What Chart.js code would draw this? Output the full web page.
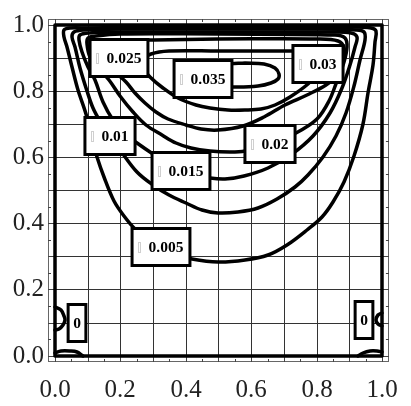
<!DOCTYPE html>
<html><head><meta charset="utf-8">
<script src="https://cdn.jsdelivr.net/npm/chart.js@4.4.0/dist/chart.umd.min.js"></script>
<style>html,body{margin:0;padding:0;background:#fff;}</style>
</head><body>
<canvas id="c" width="411" height="406"></canvas>
<script>
// ---- data (data units) ----
const gridValues = [0,0.1,0.2,0.3,0.4,0.5,0.6,0.7,0.8,0.9,1.0];
const tickLabelValues = [0,0.2,0.4,0.6,0.8,1.0];

const wall = [[0,0],[1,0],[1,1],[0,1],[0,0]];
const psi0LeftEddy = [[0,0.147],[0.018,0.137],[0.028,0.12],[0.03,0.108],[0.026,0.092],[0.013,0.081],[0,0.078]];
const psi0RightEddy = [[1,0.13],[0.988,0.122],[0.982,0.108],[0.986,0.095],[1,0.088]];
const psi0BottomLeft = [[0,0.009],[0.02,0.014],[0.045,0.015],[0.068,0.01],[0.085,0]];
const psi0BottomRight = [[0.925,0],[0.942,0.009],[0.962,0.014],[0.985,0.013],[1,0.01]];

const psi005 = [[0.5,0.994],[0.3,0.994],[0.1,0.993],[0.045,0.991],[0.027,0.985],[0.029,0.965],[0.038,0.935],[0.052,0.875],[0.072,0.805],[0.094,0.73],[0.111,0.665],[0.129,0.6],[0.151,0.54],[0.18,0.468],[0.21,0.422],[0.245,0.383],[0.3,0.337],[0.36,0.306],[0.42,0.291],[0.5,0.284],[0.58,0.288],[0.65,0.305],[0.71,0.334],[0.77,0.38],[0.815,0.42],[0.85,0.465],[0.882,0.525],[0.915,0.605],[0.94,0.7],[0.958,0.795],[0.971,0.88],[0.979,0.95],[0.98,0.982],[0.965,0.992],[0.9,0.994],[0.7,0.994],[0.5,0.994]];
const psi010 = [[0.5,0.988],[0.2,0.988],[0.085,0.986],[0.058,0.98],[0.053,0.965],[0.062,0.935],[0.078,0.87],[0.098,0.8],[0.118,0.75],[0.14,0.705],[0.167,0.665],[0.2,0.622],[0.25,0.556],[0.3,0.515],[0.35,0.485],[0.4,0.461],[0.45,0.442],[0.5,0.433],[0.56,0.435],[0.62,0.448],[0.68,0.474],[0.735,0.51],[0.775,0.547],[0.82,0.6],[0.86,0.665],[0.89,0.735],[0.913,0.815],[0.933,0.895],[0.947,0.955],[0.946,0.98],[0.92,0.987],[0.8,0.988],[0.5,0.988]];
const psi015 = [[0.5,0.981],[0.2,0.981],[0.105,0.978],[0.078,0.971],[0.073,0.955],[0.082,0.92],[0.1,0.875],[0.123,0.835],[0.148,0.768],[0.178,0.712],[0.213,0.672],[0.252,0.643],[0.3,0.611],[0.34,0.585],[0.385,0.562],[0.43,0.546],[0.473,0.538],[0.52,0.536],[0.577,0.545],[0.65,0.568],[0.725,0.61],[0.79,0.665],[0.84,0.733],[0.878,0.81],[0.903,0.88],[0.918,0.935],[0.922,0.963],[0.905,0.977],[0.85,0.981],[0.5,0.981]];
const psi020 = [[0.5,0.973],[0.2,0.973],[0.125,0.969],[0.102,0.96],[0.097,0.943],[0.108,0.905],[0.133,0.87],[0.166,0.835],[0.2,0.786],[0.238,0.737],[0.28,0.697],[0.327,0.667],[0.37,0.644],[0.416,0.627],[0.475,0.618],[0.535,0.616],[0.58,0.62],[0.656,0.64],[0.737,0.675],[0.8,0.717],[0.837,0.77],[0.862,0.83],[0.882,0.89],[0.892,0.935],[0.885,0.962],[0.855,0.972],[0.5,0.973]];
const psi025 = [[0.5,0.957],[0.3,0.956],[0.205,0.952],[0.168,0.941],[0.153,0.92],[0.16,0.89],[0.185,0.86],[0.218,0.828],[0.245,0.795],[0.277,0.764],[0.31,0.738],[0.347,0.716],[0.4,0.697],[0.446,0.687],[0.5,0.682],[0.574,0.695],[0.64,0.722],[0.703,0.758],[0.77,0.79],[0.828,0.818],[0.862,0.85],[0.88,0.893],[0.882,0.93],[0.865,0.951],[0.8,0.957],[0.5,0.957]];
const psi030 = [[0.5,0.923],[0.35,0.921],[0.293,0.913],[0.268,0.895],[0.27,0.87],[0.292,0.843],[0.33,0.81],[0.376,0.781],[0.43,0.759],[0.475,0.748],[0.53,0.744],[0.58,0.742],[0.63,0.746],[0.673,0.758],[0.72,0.784],[0.772,0.823],[0.808,0.858],[0.826,0.888],[0.82,0.91],[0.795,0.92],[0.73,0.923],[0.5,0.923]];
const psi035 = [[0.58,0.886],[0.52,0.884],[0.475,0.876],[0.448,0.861],[0.443,0.845],[0.458,0.829],[0.5,0.817],[0.56,0.812],[0.62,0.815],[0.66,0.825],[0.681,0.838],[0.685,0.852],[0.674,0.872],[0.64,0.883],[0.58,0.886]];

const labelText = ['0.005','0.01','0.015','0.02','0.025','0.03','0.035','0','0'];
const labelX = [0.325,0.168,0.385,0.656,0.195,0.805,0.453,0.069,0.945];
const labelY = [0.328,0.666,0.56,0.64,0.902,0.882,0.838,0.098,0.107];

// ---- chart ----
const curves = [wall, psi0LeftEddy, psi0RightEddy, psi0BottomLeft, psi0BottomRight,
  psi005, psi010, psi015, psi020, psi025, psi030, psi035];

const frameTicks = {
  id: 'frameTicks',
  beforeDatasetsDraw(chart) {
    const {ctx, chartArea: a, scales: {x, y}} = chart;
    ctx.save();
    ctx.strokeStyle = '#666'; ctx.lineWidth = 1;
    ctx.strokeRect(Math.round(a.left) + 0.5, Math.round(a.top) + 0.5, Math.round(a.right - a.left) - 1, Math.round(a.bottom - a.top) - 1);
    ctx.strokeStyle = '#444';
    for (let k = 0; k <= 20; k++) {
      const v = k / 20;
      const len = (k % 2 === 0) ? 5 : 3;
      const px = Math.round(x.getPixelForValue(v)) + 0.5;
      const py = Math.round(y.getPixelForValue(v)) + 0.5;
      ctx.beginPath();
      ctx.moveTo(px, a.bottom); ctx.lineTo(px, a.bottom - len);
      ctx.moveTo(px, a.top); ctx.lineTo(px, a.top + len);
      ctx.moveTo(a.left, py); ctx.lineTo(a.left + len, py);
      ctx.moveTo(a.right, py); ctx.lineTo(a.right - len, py);
      ctx.stroke();
    }
    ctx.restore();
  }
};

const labelBoxes = {
  id: 'labelBoxes',
  afterDatasetsDraw(chart) {
    const {ctx, scales: {x, y}} = chart;
    ctx.save();
    ctx.font = 'bold 15.5px "Liberation Serif", "DejaVu Serif", serif';
    labelText.forEach((t, i) => {
      const cx = x.getPixelForValue(labelX[i]);
      const cy = y.getPixelForValue(labelY[i]);
      const tw = ctx.measureText(t).width;
      const glyph = t !== '0';
      const w = glyph ? tw + 23 : tw + 10;
      const h = 37;
      const left = cx - w / 2, top = cy - h / 2;
      ctx.fillStyle = '#fff';
      ctx.fillRect(left, top, w, h);
      ctx.lineWidth = 3; ctx.strokeStyle = '#000';
      ctx.strokeRect(left, top, w, h);
      if (glyph) {
        ctx.lineWidth = 1; ctx.strokeStyle = '#cfcfcf';
        ctx.strokeRect(Math.round(left + 6) + 0.5, Math.round(cy - 5) + 0.5, 2, 10);
      }
      ctx.fillStyle = '#000';
      ctx.textBaseline = 'middle';
      ctx.textAlign = 'left';
      ctx.fillText(t, glyph ? left + 16.5 : left + 5, cy + 1);
    });
    ctx.restore();
  }
};

const tickCb = v => {
  const k = Math.round(v * 10);
  return tickLabelValues.some(t => Math.abs(t - v) < 1e-6) ? (k / 10).toFixed(1) : '';
};

new Chart(document.getElementById('c'), {
  type: 'scatter',
  data: {
    datasets: curves.map(pts => ({
      data: pts.map(p => ({x: p[0], y: p[1]})),
      showLine: true,
      pointRadius: 0,
      borderColor: '#000',
      borderWidth: 3.5,
      borderJoinStyle: 'round',
      borderCapStyle: 'round',
      tension: pts === wall ? 0 : 0.35,
      fill: false
    }))
  },
  options: {
    responsive: false,
    animation: false,
    layout: {padding: {left: 0, right: 11, top: 12, bottom: 0}},
    plugins: {legend: {display: false}, tooltip: {enabled: false}},
    scales: {
      x: {
        type: 'linear', min: -0.0207, max: 1.0207, alignToPixels: true,
        afterBuildTicks: s => { s.ticks = gridValues.map(v => ({value: v})); },
        afterFit: s => { s.height = 44; },
        ticks: {callback: tickCb, autoSkip: false, maxRotation: 0, padding: 13,
          font: {family: '"Liberation Serif", "DejaVu Serif", serif', size: 25}, color: '#222'},
        grid: {color: '#333', lineWidth: 1, drawTicks: false},
        border: {display: false}
      },
      y: {
        type: 'linear', min: -0.0196, max: 1.019, alignToPixels: true,
        afterBuildTicks: s => { s.ticks = gridValues.map(v => ({value: v})); },
        afterFit: s => { s.width = 48; },
        ticks: {callback: tickCb, autoSkip: false, padding: 4,
          font: {family: '"Liberation Serif", "DejaVu Serif", serif', size: 25}, color: '#222'},
        grid: {color: '#333', lineWidth: 1, drawTicks: false},
        border: {display: false}
      }
    }
  },
  plugins: [frameTicks, labelBoxes]
});
</script>
</body></html>
